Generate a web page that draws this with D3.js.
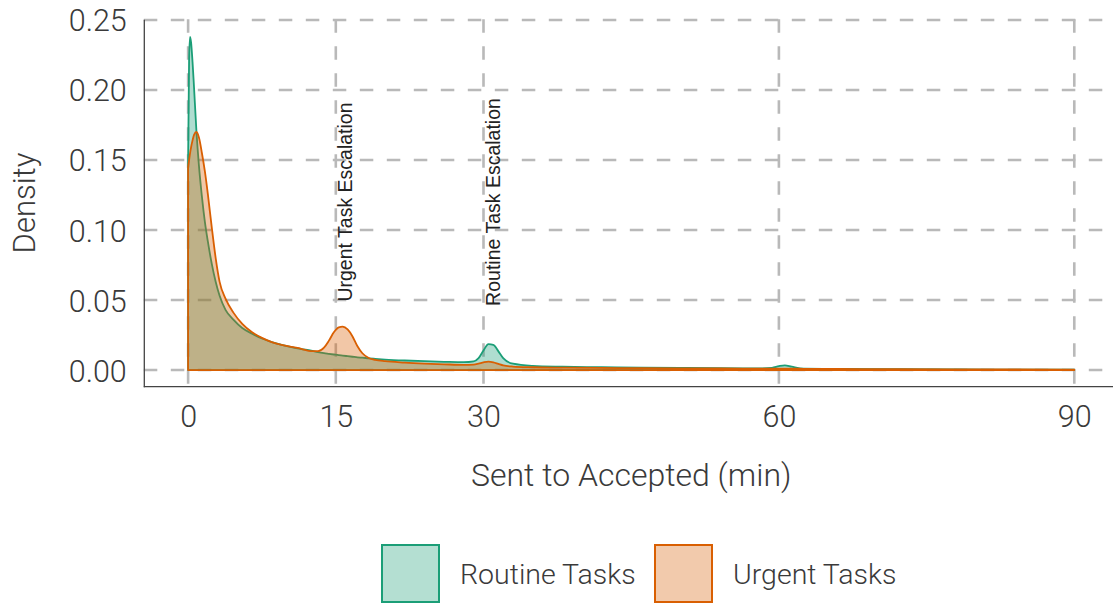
<!DOCTYPE html>
<html>
<head>
<meta charset="utf-8">
<script src="https://cdn.jsdelivr.net/npm/d3@7/dist/d3.min.js"></script>
<style>
  html, body { margin: 0; padding: 0; background: #ffffff; }
  svg { display: block; }
</style>
</head>
<body>
<div id="chart"></div>
<script>
// ---- Data ----
const minutes = [0, 0.1, 0.2, 0.3, 0.45, 0.6, 0.85, 1.1, 1.4, 1.7, 2.0, 2.4, 2.8, 3.2, 3.8, 4.6, 5.5, 6.5, 7.5, 8.5, 9.5, 10.5, 11.5, 12.5, 13.2, 13.8, 14.3, 14.8, 15.3, 15.7, 16.2, 16.7, 17.2, 17.7, 18.3, 19, 20, 22, 24, 26, 28, 29, 29.5, 30, 30.5, 31, 31.5, 32, 33, 35, 38, 42, 46, 50, 54, 58, 59.3, 60, 60.6, 61.3, 62.5, 66, 72, 78, 84, 90];

const routineDensity = [0.150, 0.222, 0.238, 0.234, 0.220, 0.202, 0.170, 0.146, 0.124, 0.106, 0.092, 0.076, 0.063, 0.053, 0.043, 0.036, 0.030, 0.026, 0.0225, 0.0200, 0.0180, 0.0163, 0.0150, 0.0138, 0.0128, 0.0121, 0.0116, 0.0111, 0.0106, 0.0103, 0.0099, 0.0095, 0.0091, 0.0088, 0.0084, 0.0080, 0.0075, 0.0068, 0.0063, 0.0059, 0.0056, 0.0062, 0.0085, 0.0140, 0.0185, 0.0180, 0.0135, 0.0085, 0.0045, 0.0030, 0.0024, 0.0020, 0.0017, 0.0015, 0.0013, 0.0012, 0.0016, 0.0028, 0.0034, 0.0024, 0.0010, 0.0008, 0.0006, 0.0004, 0.0003, 0.0002];

const urgentDensity = [0.145, 0.150, 0.155, 0.159, 0.164, 0.168, 0.170, 0.166, 0.155, 0.142, 0.126, 0.102, 0.080, 0.063, 0.051, 0.041, 0.033, 0.027, 0.023, 0.020, 0.018, 0.0165, 0.0152, 0.0135, 0.0135, 0.016, 0.021, 0.027, 0.0305, 0.031, 0.029, 0.024, 0.017, 0.012, 0.0088, 0.0073, 0.0063, 0.0053, 0.0046, 0.0041, 0.0037, 0.0039, 0.0046, 0.0055, 0.0060, 0.0055, 0.0044, 0.0033, 0.0025, 0.0020, 0.0017, 0.0015, 0.0013, 0.0012, 0.0011, 0.0010, 0.0010, 0.0010, 0.0010, 0.0010, 0.0009, 0.0008, 0.0006, 0.0005, 0.0004, 0.0003];

const seriesNames = ["Routine Tasks", "Urgent Tasks"];
const seriesColors = ["#1b9e77", "#d95f02"];

const xTicks = [0, 15, 30, 60, 90];
const yTicks = [0, 0.05, 0.10, 0.15, 0.20, 0.25];

const annotations = [
  { x: 16, y: 0.12, label: "Urgent Task Escalation" },
  { x: 31, y: 0.12, label: "Routine Task Escalation" }
];

const xTitle = "Sent to Accepted (min)";
const yTitle = "Density";

// ---- Layout ----
const W = 1113, H = 603;
const svg = d3.select("#chart").append("svg").attr("width", W).attr("height", H);

const x = d3.scaleLinear().domain([-4.5, 94.5]).range([143.8, 1118.6]);
const y = d3.scaleLinear().domain([-0.0119, 0.2505]).range([386.7, 19.3]);

const panelL = x.range()[0], panelR = x.range()[1];
const panelT = y.range()[1], panelB = y.range()[0];

const textFont = "Roboto, 'Liberation Sans', sans-serif";
const textColor = "#3a3a3a";
const gridColor = "#b9b9b9";

// ---- Grid ----
const grid = svg.append("g");
grid.selectAll("line.h").data(yTicks).join("line")
  .attr("x1", panelL).attr("x2", panelR)
  .attr("y1", d => y(d)).attr("y2", d => y(d))
  .attr("stroke", gridColor).attr("stroke-width", 2.6)
  .attr("stroke-dasharray", "13.5,13.5");
grid.selectAll("line.v").data(xTicks).join("line")
  .attr("x1", d => x(d)).attr("x2", d => x(d))
  .attr("y1", panelT).attr("y2", panelB)
  .attr("stroke", gridColor).attr("stroke-width", 2.6)
  .attr("stroke-dasharray", "13.5,13.5");

// ---- Density areas ----
const series = [routineDensity, urgentDensity].map((vals, i) => ({
  name: seriesNames[i], color: seriesColors[i],
  values: minutes.map((m, j) => ({ m, d: vals[j] }))
}));

const area = d3.area()
  .x(d => x(d.m)).y0(y(0)).y1(d => y(d.d))
  .curve(d3.curveMonotoneX);

svg.append("g").selectAll("path").data(series).join("path")
  .attr("d", d => area(d.values))
  .attr("fill", d => d.color).attr("fill-opacity", 0.35)
  .attr("stroke", d => d.color).attr("stroke-width", 1.8)
  .attr("stroke-linejoin", "round");

// ---- Annotations ----
svg.append("g").selectAll("text").data(annotations).join("text")
  .attr("transform", d => `translate(${x(d.x)},${y(d.y)}) rotate(-90)`)
  .attr("text-anchor", "middle").attr("dy", "0.35em")
  .attr("font-family", "'Liberation Sans', Arial, sans-serif")
  .attr("font-size", 19.5).attr("fill", "#222")
  .text(d => d.label);

// ---- Axes ----
const xAxis = svg.append("g").attr("transform", `translate(0,${panelB})`)
  .call(d3.axisBottom(x).tickValues(xTicks).tickSize(0).tickPadding(0).tickFormat(d3.format("d")));
xAxis.select(".domain").attr("d", `M${panelL},0H${W}`).attr("stroke", "#444").attr("stroke-width", 1.3);
xAxis.selectAll("text").attr("dy", 0).attr("y", 40)
  .attr("font-family", textFont).attr("font-weight", 300)
  .attr("font-size", 30.5).attr("fill", textColor);

const yAxis = svg.append("g").attr("transform", `translate(${panelL},0)`)
  .call(d3.axisLeft(y).tickValues(yTicks).tickSize(0).tickPadding(0).tickFormat(d3.format(".2f")));
yAxis.select(".domain").attr("stroke", "#444").attr("stroke-width", 1.3);
yAxis.selectAll("text").attr("x", -17).attr("dy", "0.36em")
  .attr("font-family", textFont).attr("font-weight", 300)
  .attr("font-size", 30.5).attr("fill", textColor);

// ---- Titles ----
svg.append("text")
  .attr("x", (panelL + panelR) / 2).attr("y", 486)
  .attr("text-anchor", "middle")
  .attr("font-family", textFont).attr("font-weight", 300)
  .attr("font-size", 32).attr("fill", textColor)
  .text(xTitle);

svg.append("text")
  .attr("transform", `translate(35,${(panelT + panelB) / 2}) rotate(-90)`)
  .attr("text-anchor", "middle")
  .attr("font-family", textFont).attr("font-weight", 300)
  .attr("font-size", 31).attr("fill", textColor)
  .text(yTitle);

// ---- Legend ----
const legendX = [382, 655];
const leg = svg.append("g").selectAll("g").data(series).join("g")
  .attr("transform", (d, i) => `translate(${legendX[i]},545)`);
leg.append("rect")
  .attr("x", 0).attr("y", 0).attr("width", 57).attr("height", 57)
  .attr("fill", d => d.color).attr("fill-opacity", 0.33)
  .attr("stroke", d => d.color).attr("stroke-width", 2);
leg.append("text")
  .attr("x", 78).attr("y", 29).attr("dy", "0.35em")
  .attr("font-family", textFont).attr("font-weight", 300)
  .attr("font-size", 28.5).attr("fill", textColor)
  .text(d => d.name);
</script>
</body>
</html>
